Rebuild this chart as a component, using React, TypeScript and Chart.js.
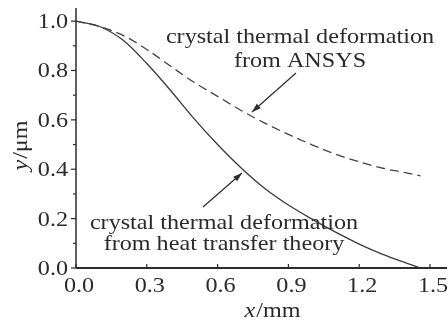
import React, { useEffect, useRef } from "react";
import { Chart, registerables } from "chart.js";

Chart.register(...registerables);

// x positions (mm)
const xValues = [0, 0.1, 0.2, 0.3, 0.4, 0.5, 0.6, 0.7, 0.8, 0.9, 1.0, 1.1, 1.2, 1.3, 1.4, 1.46];
// crystal thermal deformation from heat transfer theory (µm)
const heatTransfer = [1.0, 0.978, 0.922, 0.828, 0.72, 0.605, 0.5, 0.405, 0.322, 0.255, 0.198, 0.145, 0.097, 0.055, 0.02, 0.0];
// crystal thermal deformation from ANSYS (µm)
const ansys = [1.0, 0.978, 0.942, 0.885, 0.818, 0.752, 0.695, 0.638, 0.587, 0.541, 0.499, 0.461, 0.43, 0.404, 0.385, 0.373];

const xTickValues = [0, 0.3, 0.6, 0.9, 1.2, 1.5];
const xTickLabels = ["0.0", "0.3", "0.6", "0.9", "1.2", "1.5"];
const yTickValues = [0, 0.2, 0.4, 0.6, 0.8, 1.0];
const yTickLabels = ["0.0", "0.2", "0.4", "0.6", "0.8", "1.0"];
const yMinorTickValues = [0.1, 0.3, 0.5, 0.7, 0.9];

const ansysLabel = ["crystal thermal deformation", "from ANSYS"];
const heatLabel = ["crystal thermal deformation", "from heat transfer theory"];
const xTitle = ["x", "/mm"];
const yTitle = ["y", "/\u03bcm"];

const FONT = "21px 'Liberation Serif', 'Times New Roman', serif";
const FONT_IT = "italic 21px 'Liberation Serif', 'Times New Roman', serif";
const SX = 1.15;
const INK = "#2b2b2b";

function drawText(ctx: CanvasRenderingContext2D, text: string, x: number, y: number, align: CanvasTextAlign, font = FONT) {
  ctx.save();
  ctx.font = font;
  ctx.textAlign = align;
  ctx.textBaseline = "alphabetic";
  ctx.translate(x, y);
  ctx.scale(SX, 1);
  ctx.fillText(text, 0, 0);
  ctx.restore();
}

function drawMixed(ctx: CanvasRenderingContext2D, parts: string[], cx: number, y: number) {
  ctx.save();
  ctx.font = FONT_IT;
  const w1 = ctx.measureText(parts[0]).width * SX;
  ctx.font = FONT;
  const w2 = ctx.measureText(parts[1]).width * SX;
  const start = cx - (w1 + w2) / 2;
  ctx.restore();
  drawText(ctx, parts[0], start, y, "left", FONT_IT);
  drawText(ctx, parts[1], start + w1 + 1, y, "left", FONT);
}

function arrow(ctx: CanvasRenderingContext2D, x1: number, y1: number, x2: number, y2: number) {
  ctx.save();
  ctx.strokeStyle = INK;
  ctx.fillStyle = INK;
  ctx.lineWidth = 1.2;
  ctx.beginPath();
  ctx.moveTo(x1, y1);
  ctx.lineTo(x2, y2);
  ctx.stroke();
  const a = Math.atan2(y2 - y1, x2 - x1);
  const L = 9, W = 3;
  ctx.beginPath();
  ctx.moveTo(x2, y2);
  ctx.lineTo(x2 - L * Math.cos(a) + W * Math.sin(a), y2 - L * Math.sin(a) - W * Math.cos(a));
  ctx.lineTo(x2 - L * Math.cos(a) - W * Math.sin(a), y2 - L * Math.sin(a) + W * Math.cos(a));
  ctx.closePath();
  ctx.fill();
  ctx.restore();
}

const decorPlugin = {
  id: "decor",
  afterDraw(chart: any) {
    const ctx: CanvasRenderingContext2D = chart.ctx;
    const xs = chart.scales.x;
    const ys = chart.scales.y;
    const area = chart.chartArea;
    ctx.save();
    ctx.fillStyle = INK;
    ctx.strokeStyle = INK;
    // axes
    ctx.lineWidth = 1.5;
    ctx.beginPath();
    ctx.moveTo(area.left, area.top);
    ctx.lineTo(area.left, area.bottom);
    ctx.stroke();
    ctx.lineWidth = 2;
    ctx.beginPath();
    ctx.moveTo(area.left, area.bottom);
    ctx.lineTo(area.right, area.bottom);
    ctx.stroke();
    // y ticks
    ctx.lineWidth = 1.2;
    yTickValues.forEach((v, i) => {
      const py = ys.getPixelForValue(v);
      ctx.beginPath();
      ctx.moveTo(area.left - 5, py);
      ctx.lineTo(area.left, py);
      ctx.stroke();
      drawText(ctx, yTickLabels[i], area.left - 8, py + 7, "right");
    });
    yMinorTickValues.forEach((v) => {
      const py = ys.getPixelForValue(v);
      ctx.beginPath();
      ctx.moveTo(area.left - 3, py);
      ctx.lineTo(area.left, py);
      ctx.stroke();
    });
    // x ticks
    xTickValues.forEach((v, i) => {
      const px = xs.getPixelForValue(v);
      ctx.beginPath();
      ctx.moveTo(px, area.bottom);
      ctx.lineTo(px, area.bottom - 4);
      ctx.stroke();
      drawText(ctx, xTickLabels[i], px + 3, area.bottom + 24, "center");
    });
    // axis titles
    drawMixed(ctx, xTitle, 272, 317);
    ctx.save();
    ctx.translate(27, 146);
    ctx.rotate(-Math.PI / 2);
    drawMixed(ctx, yTitle, 0, 0);
    ctx.restore();
    // annotations
    drawText(ctx, ansysLabel[0], 300, 43, "center");
    drawText(ctx, ansysLabel[1], 300, 67, "center");
    drawText(ctx, heatLabel[0], 224, 229, "center");
    drawText(ctx, heatLabel[1], 224, 250, "center");
    arrow(ctx, 296, 73, 252, 112);
    arrow(ctx, 203, 207, 242, 173);
    ctx.restore();
  },
};

export default function App() {
  const ref = useRef<HTMLCanvasElement>(null);
  useEffect(() => {
    if (!ref.current) return;
    const chart = new Chart(ref.current, {
      type: "line",
      data: {
        datasets: [
          {
            label: "from heat transfer theory",
            data: xValues.map((x, i) => ({ x, y: heatTransfer[i] })),
            borderColor: "#3a3a3a",
            borderWidth: 1.3,
            pointRadius: 0,
            cubicInterpolationMode: "monotone",
            fill: false,
          },
          {
            label: "from ANSYS",
            data: xValues.map((x, i) => ({ x, y: ansys[i] })),
            borderColor: "#444",
            borderWidth: 1.3,
            borderDash: [9, 5],
            pointRadius: 0,
            cubicInterpolationMode: "monotone",
            fill: false,
          },
        ],
      },
      options: {
        animation: false,
        responsive: true,
        maintainAspectRatio: false,
        layout: { padding: { left: 76, right: 1, top: 8, bottom: 56 } },
        plugins: { legend: { display: false }, tooltip: { enabled: false } },
        scales: {
          x: { type: "linear", min: 0, max: 1.572, display: false },
          y: { type: "linear", min: 0, max: 1.053, display: false },
        },
      },
      plugins: [decorPlugin],
    });
    return () => chart.destroy();
  }, []);
  return (
    <div style={{ position: "fixed", left: 0, top: 0, width: 448, height: 324, background: "#fff" }}>
      <canvas ref={ref} />
    </div>
  );
}
